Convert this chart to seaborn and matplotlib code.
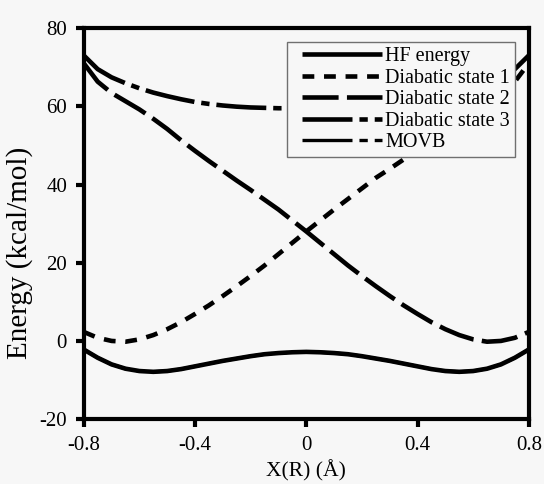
import matplotlib
matplotlib.use("Agg")
import matplotlib.pyplot as plt
from matplotlib.legend_handler import HandlerLine2D
import seaborn as sns
import pandas as pd

# Reaction coordinate grid (Å)
x_coord = [-0.80, -0.75, -0.70, -0.65, -0.60, -0.55, -0.50, -0.45, -0.40,
           -0.35, -0.30, -0.25, -0.20, -0.15, -0.10, -0.05, 0.00,
           0.05, 0.10, 0.15, 0.20, 0.25, 0.30, 0.35, 0.40,
           0.45, 0.50, 0.55, 0.60, 0.65, 0.70, 0.75, 0.80]

# Energies (kcal/mol)
hf_energy = [-2.2, -4.3, -6.0, -7.1, -7.7, -7.9, -7.7, -7.2, -6.5,
             -5.8, -5.1, -4.5, -3.9, -3.4, -3.1, -2.9, -2.8,
             -2.9, -3.1, -3.4, -3.9, -4.5, -5.1, -5.8, -6.5,
             -7.2, -7.7, -7.9, -7.7, -7.1, -6.0, -4.3, -2.2]

diabatic_1 = [2.3, 0.8, 0.0, -0.2, 0.4, 1.5, 3.0, 4.8, 6.9,
              9.1, 11.5, 14.0, 16.6, 19.3, 22.2, 25.1, 28.0,
              30.8, 33.6, 36.3, 39.0, 41.7, 44.0, 46.4, 48.8,
              51.4, 54.2, 56.8, 59.2, 61.3, 63.4, 66.3, 71.0]

diabatic_2 = [71.0, 66.3, 63.4, 61.3, 59.2, 56.8, 54.2, 51.3, 48.6,
              46.0, 43.5, 41.0, 38.6, 36.1, 33.6, 30.8, 28.0,
              25.1, 22.2, 19.3, 16.6, 14.0, 11.5, 9.1, 6.9,
              4.8, 3.0, 1.5, 0.4, -0.2, 0.0, 0.8, 2.3]

diabatic_3 = [73.0, 69.5, 67.4, 65.9, 64.6, 63.5, 62.6, 61.8, 61.1,
              60.6, 60.2, 59.9, 59.7, 59.6, 59.5, 59.5, 59.5,
              59.5, 59.5, 59.6, 59.7, 59.9, 60.2, 60.6, 61.1,
              61.8, 62.6, 63.5, 64.6, 65.9, 67.4, 69.5, 73.0]

movb = [-2.2, -4.3, -6.0, -7.1, -7.7, -7.9, -7.7, -7.2, -6.5,
        -5.8, -5.1, -4.5, -3.9, -3.4, -3.1, -2.9, -2.8,
        -2.9, -3.1, -3.4, -3.9, -4.5, -5.1, -5.8, -6.5,
        -7.2, -7.7, -7.9, -7.7, -7.1, -6.0, -4.3, -2.2]

series_names = ["HF energy", "Diabatic state 1", "Diabatic state 2",
                "Diabatic state 3", "MOVB"]
x_ticks = [-0.8, -0.4, 0.0, 0.4, 0.8]
x_tick_labels = ["-0.8", "-0.4", "0", "0.4", "0.8"]
y_ticks = [-20, 0, 20, 40, 60, 80]
y_tick_labels = ["-20", "0", "20", "40", "60", "80"]

bg = "#f7f7f7"
sns.set_theme(style="ticks")
plt.rcParams["font.family"] = ["Liberation Serif", "DejaVu Serif"]
plt.rcParams["axes.unicode_minus"] = False
plt.rcParams["lines.scale_dashes"] = False
plt.rcParams["text.color"] = "black"
plt.rcParams["axes.labelcolor"] = "black"
plt.rcParams["xtick.color"] = "black"
plt.rcParams["ytick.color"] = "black"

frames = []
for name, vals in zip(series_names,
                      [hf_energy, diabatic_1, diabatic_2, diabatic_3, movb]):
    frames.append(pd.DataFrame({"x": x_coord, "energy": vals, "series": name}))
df = pd.concat(frames, ignore_index=True)

styles = {
    "HF energy": dict(lw=3.3, ls="-"),
    "Diabatic state 1": dict(lw=3.3, ls=(0, (8.5, 7))),
    "Diabatic state 2": dict(lw=3.3, ls=(0, (26, 6))),
    "Diabatic state 3": dict(lw=3.3, ls=(0, (36, 5, 6, 5))),
    "MOVB": dict(lw=2.4, ls=(0, (36, 5, 6, 5))),
}

fig = plt.figure(figsize=(5.44, 4.84), dpi=100, facecolor=bg)
ax = fig.add_axes([0.154, 0.134, 0.818, 0.808])
ax.set_facecolor(bg)

for name in series_names:
    sub = df[df["series"] == name]
    sns.lineplot(data=sub, x="x", y="energy", ax=ax, color="black",
                 linewidth=styles[name]["lw"], linestyle=styles[name]["ls"],
                 label=name, solid_capstyle="butt", dash_capstyle="butt")

ax.set_xlim(-0.8, 0.8)
ax.set_ylim(-20, 80)
ax.set_xticks(x_ticks)
ax.set_xticklabels(x_tick_labels)
ax.set_yticks(y_ticks)
ax.set_yticklabels(y_tick_labels)
ax.tick_params(direction="out", length=6, width=3, labelsize=15,
               colors="black", pad=6)
for side in ["left", "right", "top", "bottom"]:
    ax.spines[side].set_visible(True)
    ax.spines[side].set_linewidth(3)
    ax.spines[side].set_color("black")

ax.set_xlabel("X(R) (Å)", fontsize=15.5, labelpad=4, color="black")
ax.set_ylabel("Energy (kcal/mol)", fontsize=21, color="black")
ax.yaxis.set_label_coords(-0.113, 0.425)

# legend lines start a little inside the frame
pad_handler = HandlerLine2D(xpad=0.5)
leg = ax.legend(loc="upper right", bbox_to_anchor=(0.969, 0.964),
                borderaxespad=0, fontsize=14.5, handlelength=4.5,
                handletextpad=0.15, labelspacing=0.12, borderpad=0.25,
                frameon=True, fancybox=False, framealpha=1,
                handler_map={l: pad_handler for l in ax.get_lines()})
leg.get_frame().set_edgecolor("#707070")
leg.get_frame().set_facecolor(bg)
leg.get_frame().set_linewidth(1.0)
for t in leg.get_texts():
    t.set_color("black")

fig.savefig("out.png", dpi=100, facecolor=bg)
